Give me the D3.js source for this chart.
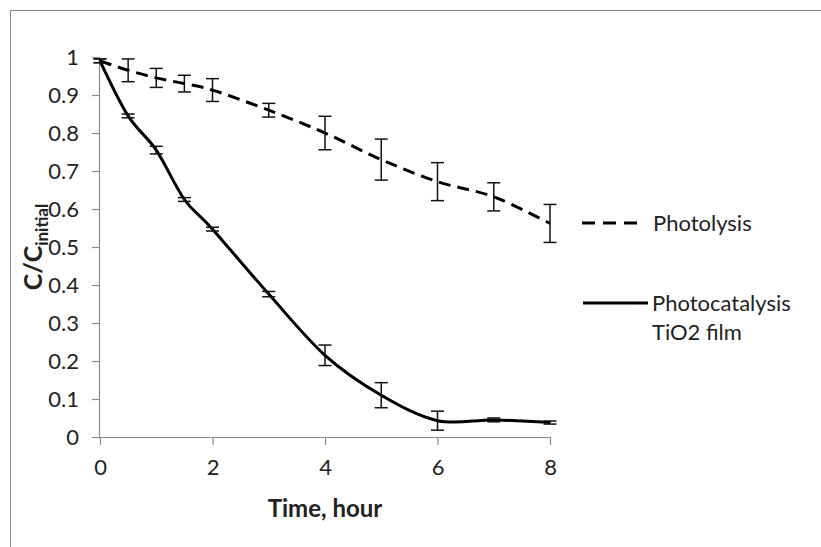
<!DOCTYPE html>
<html>
<head>
<meta charset="utf-8">
<script src="https://cdn.jsdelivr.net/npm/d3@7"></script>
<style>
  html, body { margin: 0; padding: 0; background: #fff; }
  svg { display: block; }
  text { font-family: Lato, "Open Sans", sans-serif; fill: #222; }
</style>
</head>
<body>
<svg id="chart" width="821" height="547"></svg>
<script>
// ---- data ----
const times = [0, 0.5, 1, 1.5, 2, 3, 4, 5, 6, 7, 8];
const photolysis    = [0.99, 0.965, 0.945, 0.93, 0.913, 0.86, 0.80, 0.73, 0.672, 0.632, 0.562];
const photolysisErr = [0.005, 0.03, 0.025, 0.022, 0.03, 0.018, 0.044, 0.054, 0.05, 0.037, 0.05];
const photocat      = [0.99, 0.845, 0.755, 0.625, 0.547, 0.376, 0.215, 0.11, 0.043, 0.045, 0.038];
const photocatErr   = [0.005, 0.005, 0.01, 0.005, 0.005, 0.007, 0.027, 0.033, 0.025, 0.005, 0.004];
const xTicks = [0, 2, 4, 6, 8];
const yTicks = [0, 0.1, 0.2, 0.3, 0.4, 0.5, 0.6, 0.7, 0.8, 0.9, 1];
const seriesNames = ["Photolysis", ["Photocatalysis", "TiO2 film"]];

const svg = d3.select("#chart");

// outer chart frame
svg.append("rect").attr("x", 10.5).attr("y", 10.5).attr("width", 830).attr("height", 560)
  .attr("fill", "#fff").attr("stroke", "#8a8a8a").attr("stroke-width", 1);

const x = d3.scaleLinear().domain([0, 8]).range([100, 550]);
const y = d3.scaleLinear().domain([0, 1]).range([437, 57]);

// axes
const yAxis = svg.append("g").attr("transform", "translate(100,0)")
  .call(d3.axisLeft(y).tickValues(yTicks).tickSize(8).tickPadding(13)
        .tickFormat(d => d === 0 || d === 1 ? String(d) : d3.format(".1f")(d)));
const xAxis = svg.append("g").attr("transform", "translate(0,437)")
  .call(d3.axisBottom(x).tickValues(xTicks).tickSize(8).tickPadding(14));
[yAxis, xAxis].forEach(g => {
  g.select(".domain").attr("stroke", "#8a8a8a").attr("stroke-width", 1.2);
  g.selectAll(".tick line").attr("stroke", "#8a8a8a").attr("stroke-width", 1.2);
  g.selectAll(".tick text").attr("font-size", 22).attr("font-family", "Lato").attr("fill", "#262626");
});
yAxis.select(".domain").attr("d", "M-0.5,437V57");
xAxis.select(".domain").attr("d", "M100,0.5H550");

// axis titles
svg.append("text").attr("x", 325).attr("y", 517).attr("text-anchor", "middle")
  .attr("font-size", 24).attr("font-weight", "bold").attr("fill", "#111").text("Time, hour");

const yl = svg.append("text").attr("transform", "translate(42,247) rotate(-90)")
  .attr("text-anchor", "middle").attr("font-weight", "bold").attr("font-size", 25).attr("fill", "#111");
yl.append("tspan").text("C/C");
yl.append("tspan").attr("font-size", 17).attr("dy", 6).text("initial");

// lines
const curve = d3.curveCatmullRom.alpha(0);
const line = vals => d3.line().curve(curve).x((d, i) => x(times[i])).y(d => y(d))(vals);

svg.append("path").attr("d", line(photolysis)).attr("fill", "none")
  .attr("stroke", "#000").attr("stroke-width", 3).attr("stroke-dasharray", "12,7");
svg.append("path").attr("d", line(photocat)).attr("fill", "none")
  .attr("stroke", "#000").attr("stroke-width", 3);

// error bars
function errorBars(vals, errs) {
  const g = svg.append("g").attr("stroke", "#111").attr("stroke-width", 1.5);
  vals.forEach((v, i) => {
    const cx = x(times[i]), y1 = y(v + errs[i]), y2 = y(v - errs[i]);
    g.append("line").attr("x1", cx).attr("x2", cx).attr("y1", y1).attr("y2", y2);
    g.append("line").attr("x1", cx - 6.5).attr("x2", cx + 6.5).attr("y1", y1).attr("y2", y1);
    g.append("line").attr("x1", cx - 6.5).attr("x2", cx + 6.5).attr("y1", y2).attr("y2", y2);
  });
}
errorBars(photolysis, photolysisErr);
errorBars(photocat, photocatErr);

// legend
svg.append("line").attr("x1", 582).attr("x2", 637).attr("y1", 223).attr("y2", 223)
  .attr("stroke", "#000").attr("stroke-width", 3).attr("stroke-dasharray", "13,8");
svg.append("text").attr("x", 653).attr("y", 231).attr("font-size", 22).text(seriesNames[0]);

svg.append("line").attr("x1", 583).attr("x2", 648).attr("y1", 303).attr("y2", 303)
  .attr("stroke", "#000").attr("stroke-width", 3);
const lt = svg.append("text").attr("x", 652).attr("y", 311).attr("font-size", 22);
lt.append("tspan").attr("x", 652).text(seriesNames[1][0]);
lt.append("tspan").attr("x", 652).attr("dy", 29).text(seriesNames[1][1]);
</script>
</body>
</html>
